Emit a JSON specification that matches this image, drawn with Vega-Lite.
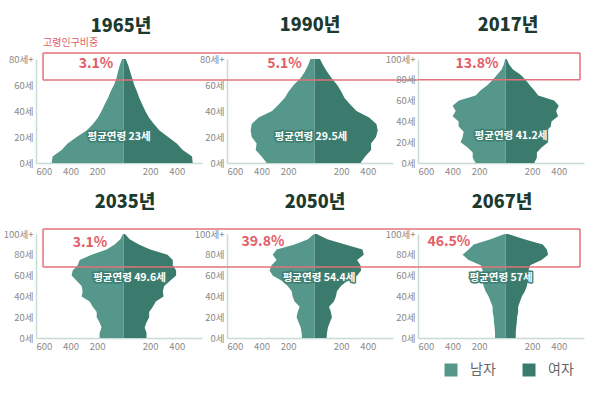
{
"$schema":"https://vega.github.io/schema/vega-lite/v6.json",
"background":"white",
"padding":{"left":3,"top":17,"right":5,"bottom":5},
"datasets":{
"pop":[
{"year":1965,"sex":"남자","age":0,"pop":542},{"year":1965,"sex":"남자","age":5,"pop":535},{"year":1965,"sex":"남자","age":10,"pop":467},{"year":1965,"sex":"남자","age":15,"pop":422},{"year":1965,"sex":"남자","age":20,"pop":354},{"year":1965,"sex":"남자","age":25,"pop":279},{"year":1965,"sex":"남자","age":30,"pop":231},{"year":1965,"sex":"남자","age":35,"pop":193},{"year":1965,"sex":"남자","age":40,"pop":166},{"year":1965,"sex":"남자","age":45,"pop":143},{"year":1965,"sex":"남자","age":50,"pop":118},{"year":1965,"sex":"남자","age":55,"pop":98},{"year":1965,"sex":"남자","age":60,"pop":73},{"year":1965,"sex":"남자","age":65,"pop":55},{"year":1965,"sex":"남자","age":70,"pop":43},{"year":1965,"sex":"남자","age":75,"pop":30},{"year":1965,"sex":"남자","age":80,"pop":12},
{"year":1965,"sex":"여자","age":0,"pop":520},{"year":1965,"sex":"여자","age":5,"pop":515},{"year":1965,"sex":"여자","age":10,"pop":445},{"year":1965,"sex":"여자","age":15,"pop":400},{"year":1965,"sex":"여자","age":20,"pop":335},{"year":1965,"sex":"여자","age":25,"pop":270},{"year":1965,"sex":"여자","age":30,"pop":228},{"year":1965,"sex":"여자","age":35,"pop":190},{"year":1965,"sex":"여자","age":40,"pop":163},{"year":1965,"sex":"여자","age":45,"pop":140},{"year":1965,"sex":"여자","age":50,"pop":118},{"year":1965,"sex":"여자","age":55,"pop":100},{"year":1965,"sex":"여자","age":60,"pop":80},{"year":1965,"sex":"여자","age":65,"pop":65},{"year":1965,"sex":"여자","age":70,"pop":50},{"year":1965,"sex":"여자","age":75,"pop":35},{"year":1965,"sex":"여자","age":80,"pop":15},
{"year":1990,"sex":"남자","age":0,"pop":361},{"year":1990,"sex":"남자","age":5,"pop":399},{"year":1990,"sex":"남자","age":10,"pop":444},{"year":1990,"sex":"남자","age":15,"pop":437},{"year":1990,"sex":"남자","age":20,"pop":474},{"year":1990,"sex":"남자","age":25,"pop":482},{"year":1990,"sex":"남자","age":30,"pop":474},{"year":1990,"sex":"남자","age":35,"pop":422},{"year":1990,"sex":"남자","age":40,"pop":321},{"year":1990,"sex":"남자","age":45,"pop":271},{"year":1990,"sex":"남자","age":50,"pop":226},{"year":1990,"sex":"남자","age":55,"pop":196},{"year":1990,"sex":"남자","age":60,"pop":158},{"year":1990,"sex":"남자","age":65,"pop":108},{"year":1990,"sex":"남자","age":70,"pop":75},{"year":1990,"sex":"남자","age":75,"pop":50},{"year":1990,"sex":"남자","age":80,"pop":32},
{"year":1990,"sex":"여자","age":0,"pop":345},{"year":1990,"sex":"여자","age":5,"pop":380},{"year":1990,"sex":"여자","age":10,"pop":425},{"year":1990,"sex":"여자","age":15,"pop":425},{"year":1990,"sex":"여자","age":20,"pop":462},{"year":1990,"sex":"여자","age":25,"pop":475},{"year":1990,"sex":"여자","age":30,"pop":465},{"year":1990,"sex":"여자","age":35,"pop":410},{"year":1990,"sex":"여자","age":40,"pop":315},{"year":1990,"sex":"여자","age":45,"pop":268},{"year":1990,"sex":"여자","age":50,"pop":225},{"year":1990,"sex":"여자","age":55,"pop":200},{"year":1990,"sex":"여자","age":60,"pop":170},{"year":1990,"sex":"여자","age":65,"pop":130},{"year":1990,"sex":"여자","age":70,"pop":95},{"year":1990,"sex":"여자","age":75,"pop":65},{"year":1990,"sex":"여자","age":80,"pop":40},
{"year":2017,"sex":"남자","age":0,"pop":226},{"year":2017,"sex":"남자","age":5,"pop":248},{"year":2017,"sex":"남자","age":10,"pop":248},{"year":2017,"sex":"남자","age":15,"pop":286},{"year":2017,"sex":"남자","age":20,"pop":339},{"year":2017,"sex":"남자","age":25,"pop":324},{"year":2017,"sex":"남자","age":30,"pop":316},{"year":2017,"sex":"남자","age":35,"pop":354},{"year":2017,"sex":"남자","age":40,"pop":354},{"year":2017,"sex":"남자","age":45,"pop":399},{"year":2017,"sex":"남자","age":50,"pop":376},{"year":2017,"sex":"남자","age":55,"pop":399},{"year":2017,"sex":"남자","age":60,"pop":352},{"year":2017,"sex":"남자","age":65,"pop":226},{"year":2017,"sex":"남자","age":70,"pop":188},{"year":2017,"sex":"남자","age":75,"pop":136},{"year":2017,"sex":"남자","age":80,"pop":96},{"year":2017,"sex":"남자","age":85,"pop":63},{"year":2017,"sex":"남자","age":90,"pop":30},{"year":2017,"sex":"남자","age":95,"pop":13},{"year":2017,"sex":"남자","age":100,"pop":4},
{"year":2017,"sex":"여자","age":0,"pop":215},{"year":2017,"sex":"여자","age":5,"pop":235},{"year":2017,"sex":"여자","age":10,"pop":235},{"year":2017,"sex":"여자","age":15,"pop":270},{"year":2017,"sex":"여자","age":20,"pop":320},{"year":2017,"sex":"여자","age":25,"pop":305},{"year":2017,"sex":"여자","age":30,"pop":300},{"year":2017,"sex":"여자","age":35,"pop":340},{"year":2017,"sex":"여자","age":40,"pop":345},{"year":2017,"sex":"여자","age":45,"pop":395},{"year":2017,"sex":"여자","age":50,"pop":380},{"year":2017,"sex":"여자","age":55,"pop":400},{"year":2017,"sex":"여자","age":60,"pop":365},{"year":2017,"sex":"여자","age":65,"pop":245},{"year":2017,"sex":"여자","age":70,"pop":215},{"year":2017,"sex":"여자","age":75,"pop":180},{"year":2017,"sex":"여자","age":80,"pop":150},{"year":2017,"sex":"여자","age":85,"pop":110},{"year":2017,"sex":"여자","age":90,"pop":55},{"year":2017,"sex":"여자","age":95,"pop":25},{"year":2017,"sex":"여자","age":100,"pop":8},
{"year":2035,"sex":"남자","age":0,"pop":181},{"year":2035,"sex":"남자","age":5,"pop":181},{"year":2035,"sex":"남자","age":10,"pop":166},{"year":2035,"sex":"남자","age":15,"pop":181},{"year":2035,"sex":"남자","age":20,"pop":203},{"year":2035,"sex":"남자","age":25,"pop":203},{"year":2035,"sex":"남자","age":30,"pop":233},{"year":2035,"sex":"남자","age":35,"pop":256},{"year":2035,"sex":"남자","age":40,"pop":316},{"year":2035,"sex":"남자","age":45,"pop":309},{"year":2035,"sex":"남자","age":50,"pop":316},{"year":2035,"sex":"남자","age":55,"pop":354},{"year":2035,"sex":"남자","age":60,"pop":392},{"year":2035,"sex":"남자","age":65,"pop":384},{"year":2035,"sex":"남자","age":70,"pop":346},{"year":2035,"sex":"남자","age":75,"pop":331},{"year":2035,"sex":"남자","age":80,"pop":241},{"year":2035,"sex":"남자","age":85,"pop":128},{"year":2035,"sex":"남자","age":90,"pop":68},{"year":2035,"sex":"남자","age":95,"pop":25},{"year":2035,"sex":"남자","age":100,"pop":5},
{"year":2035,"sex":"여자","age":0,"pop":172},{"year":2035,"sex":"여자","age":5,"pop":172},{"year":2035,"sex":"여자","age":10,"pop":158},{"year":2035,"sex":"여자","age":15,"pop":172},{"year":2035,"sex":"여자","age":20,"pop":192},{"year":2035,"sex":"여자","age":25,"pop":192},{"year":2035,"sex":"여자","age":30,"pop":220},{"year":2035,"sex":"여자","age":35,"pop":242},{"year":2035,"sex":"여자","age":40,"pop":300},{"year":2035,"sex":"여자","age":45,"pop":295},{"year":2035,"sex":"여자","age":50,"pop":305},{"year":2035,"sex":"여자","age":55,"pop":350},{"year":2035,"sex":"여자","age":60,"pop":395},{"year":2035,"sex":"여자","age":65,"pop":395},{"year":2035,"sex":"여자","age":70,"pop":370},{"year":2035,"sex":"여자","age":75,"pop":370},{"year":2035,"sex":"여자","age":80,"pop":330},{"year":2035,"sex":"여자","age":85,"pop":200},{"year":2035,"sex":"여자","age":90,"pop":115},{"year":2035,"sex":"여자","age":95,"pop":45},{"year":2035,"sex":"여자","age":100,"pop":10},
{"year":2050,"sex":"남자","age":0,"pop":95},{"year":2050,"sex":"남자","age":5,"pop":98},{"year":2050,"sex":"남자","age":10,"pop":105},{"year":2050,"sex":"남자","age":15,"pop":120},{"year":2050,"sex":"남자","age":20,"pop":136},{"year":2050,"sex":"남자","age":25,"pop":128},{"year":2050,"sex":"남자","age":30,"pop":113},{"year":2050,"sex":"남자","age":35,"pop":151},{"year":2050,"sex":"남자","age":40,"pop":166},{"year":2050,"sex":"남자","age":45,"pop":173},{"year":2050,"sex":"남자","age":50,"pop":203},{"year":2050,"sex":"남자","age":55,"pop":248},{"year":2050,"sex":"남자","age":60,"pop":316},{"year":2050,"sex":"남자","age":65,"pop":339},{"year":2050,"sex":"남자","age":70,"pop":324},{"year":2050,"sex":"남자","age":75,"pop":286},{"year":2050,"sex":"남자","age":80,"pop":316},{"year":2050,"sex":"남자","age":85,"pop":286},{"year":2050,"sex":"남자","age":90,"pop":151},{"year":2050,"sex":"남자","age":95,"pop":50},{"year":2050,"sex":"남자","age":100,"pop":5},
{"year":2050,"sex":"여자","age":0,"pop":90},{"year":2050,"sex":"여자","age":5,"pop":93},{"year":2050,"sex":"여자","age":10,"pop":100},{"year":2050,"sex":"여자","age":15,"pop":114},{"year":2050,"sex":"여자","age":20,"pop":130},{"year":2050,"sex":"여자","age":25,"pop":122},{"year":2050,"sex":"여자","age":30,"pop":108},{"year":2050,"sex":"여자","age":35,"pop":145},{"year":2050,"sex":"여자","age":40,"pop":160},{"year":2050,"sex":"여자","age":45,"pop":168},{"year":2050,"sex":"여자","age":50,"pop":198},{"year":2050,"sex":"여자","age":55,"pop":245},{"year":2050,"sex":"여자","age":60,"pop":320},{"year":2050,"sex":"여자","age":65,"pop":350},{"year":2050,"sex":"여자","age":70,"pop":345},{"year":2050,"sex":"여자","age":75,"pop":320},{"year":2050,"sex":"여자","age":80,"pop":370},{"year":2050,"sex":"여자","age":85,"pop":360},{"year":2050,"sex":"여자","age":90,"pop":230},{"year":2050,"sex":"여자","age":95,"pop":95},{"year":2050,"sex":"여자","age":100,"pop":15},
{"year":2067,"sex":"남자","age":0,"pop":80},{"year":2067,"sex":"남자","age":5,"pop":80},{"year":2067,"sex":"남자","age":10,"pop":83},{"year":2067,"sex":"남자","age":15,"pop":88},{"year":2067,"sex":"남자","age":20,"pop":90},{"year":2067,"sex":"남자","age":25,"pop":98},{"year":2067,"sex":"남자","age":30,"pop":98},{"year":2067,"sex":"남자","age":35,"pop":113},{"year":2067,"sex":"남자","age":40,"pop":128},{"year":2067,"sex":"남자","age":45,"pop":151},{"year":2067,"sex":"남자","age":50,"pop":166},{"year":2067,"sex":"남자","age":55,"pop":173},{"year":2067,"sex":"남자","age":60,"pop":173},{"year":2067,"sex":"남자","age":65,"pop":173},{"year":2067,"sex":"남자","age":70,"pop":188},{"year":2067,"sex":"남자","age":75,"pop":279},{"year":2067,"sex":"남자","age":80,"pop":324},{"year":2067,"sex":"남자","age":85,"pop":279},{"year":2067,"sex":"남자","age":90,"pop":241},{"year":2067,"sex":"남자","age":95,"pop":113},{"year":2067,"sex":"남자","age":100,"pop":8},
{"year":2067,"sex":"여자","age":0,"pop":76},{"year":2067,"sex":"여자","age":5,"pop":76},{"year":2067,"sex":"여자","age":10,"pop":79},{"year":2067,"sex":"여자","age":15,"pop":84},{"year":2067,"sex":"여자","age":20,"pop":86},{"year":2067,"sex":"여자","age":25,"pop":94},{"year":2067,"sex":"여자","age":30,"pop":94},{"year":2067,"sex":"여자","age":35,"pop":108},{"year":2067,"sex":"여자","age":40,"pop":122},{"year":2067,"sex":"여자","age":45,"pop":145},{"year":2067,"sex":"여자","age":50,"pop":160},{"year":2067,"sex":"여자","age":55,"pop":168},{"year":2067,"sex":"여자","age":60,"pop":170},{"year":2067,"sex":"여자","age":65,"pop":172},{"year":2067,"sex":"여자","age":70,"pop":185},{"year":2067,"sex":"여자","age":75,"pop":270},{"year":2067,"sex":"여자","age":80,"pop":320},{"year":2067,"sex":"여자","age":85,"pop":310},{"year":2067,"sex":"여자","age":90,"pop":280},{"year":2067,"sex":"여자","age":95,"pop":140},{"year":2067,"sex":"여자","age":100,"pop":15}
],
"info":[
{"year":1965,"avg":"평균연령 23세","pct":"3.1%"},
{"year":1990,"avg":"평균연령 29.5세","pct":"5.1%"},
{"year":2017,"avg":"평균연령 41.2세","pct":"13.8%"},
{"year":2035,"avg":"평균연령 49.6세","pct":"3.1%"},
{"year":2050,"avg":"평균연령 54.4세","pct":"39.8%"},
{"year":2067,"avg":"평균연령 57세","pct":"46.5%"}
]
},
"columns":3,
"spacing":{"column":25,"row":71},
"bounds":"flush",
"concat":[
{"width":166,"height":104,"title":{"text":"1965년","offset":2,"dx":2},
"layer":[
{"data":{"name":"pop"},"transform":[{"filter":"datum.year == 1965"},{"calculate":"datum.sex == '남자' ? -datum.pop : datum.pop","as":"xv"}],
"mark":{"type":"area","orient":"horizontal"},
"encoding":{
"y":{"field":"age","type":"quantitative","title":null,"scale":{"domain":[0,80],"nice":false},"axis":{"values":[0,20,40,60,80],"tickCount":10,"labelOverlap":false,"labelExpr":"datum.value == 80 ? '80세+' : datum.value + '세'"}},
"x":{"field":"xv","type":"quantitative","title":null,"stack":null,"scale":{"domain":[-660,590],"nice":false},"axis":{"values":[-600,-400,-200,200,400],"tickCount":10,"labelOverlap":false,"labelExpr":"abs(datum.value)"}},
"color":{"field":"sex","type":"nominal","scale":{"domain":["남자","여자"],"range":["#55978a","#3b7b6e"]},"legend":{"title":null}}}},
{"data":{"name":"info"},"transform":[{"filter":"datum.year == 1965"}],"mark":{"type":"rule","color":"#e3707a","strokeWidth":1.5},"encoding":{"x":{"datum":-607},"x2":{"datum":778},"y":{"datum":84.6}}},
{"data":{"name":"info"},"transform":[{"filter":"datum.year == 1965"}],"mark":{"type":"rule","color":"#e3707a","strokeWidth":1.5},"encoding":{"x":{"datum":-607},"x2":{"datum":778},"y":{"datum":63.8}}},
{"data":{"name":"info"},"transform":[{"filter":"datum.year == 1965"}],"mark":{"type":"rule","color":"#e3707a","strokeWidth":1.5},"encoding":{"x":{"datum":-607},"y":{"datum":63.8},"y2":{"datum":84.6}}},
{"data":{"name":"info"},"transform":[{"filter":"datum.year == 1965"}],"mark":{"type":"text","color":"#e35d67","fontSize":14,"fontWeight":600},"encoding":{"x":{"datum":-208},"y":{"datum":76},"text":{"field":"pct"}}},
{"data":{"name":"info"},"transform":[{"filter":"datum.year == 1965"}],"mark":{"type":"text","color":"#3e7e71","stroke":"#3e7e71","strokeWidth":3,"strokeJoin":"round","fontSize":10.5,"fontWeight":700},"encoding":{"x":{"datum":-35},"y":{"datum":20},"text":{"field":"avg"}}},
{"data":{"name":"info"},"transform":[{"filter":"datum.year == 1965"}],"mark":{"type":"text","color":"white","fontSize":10.5,"fontWeight":700},"encoding":{"x":{"datum":-35},"y":{"datum":20},"text":{"field":"avg"}}},
{"data":{"name":"info"},"transform":[{"filter":"datum.year == 1965"}],"mark":{"type":"text","color":"#e35d67","fontSize":10,"align":"left"},"encoding":{"x":{"datum":-607},"y":{"datum":92.3},"text":{"value":"고령인구비중"}}}
]},
{"width":166,"height":104,"title":{"text":"1990년","offset":17,"dx":0},
"layer":[
{"data":{"name":"pop"},"transform":[{"filter":"datum.year == 1990"},{"calculate":"datum.sex == '남자' ? -datum.pop : datum.pop","as":"xv"}],
"mark":{"type":"area","orient":"horizontal"},
"encoding":{
"y":{"field":"age","type":"quantitative","title":null,"scale":{"domain":[0,80],"nice":false},"axis":{"values":[0,20,40,60,80],"tickCount":10,"labelOverlap":false,"labelExpr":"datum.value == 80 ? '80세+' : datum.value + '세'"}},
"x":{"field":"xv","type":"quantitative","title":null,"stack":null,"scale":{"domain":[-660,590],"nice":false},"axis":{"values":[-600,-400,-200,200,400],"tickCount":10,"labelOverlap":false,"labelExpr":"abs(datum.value)"}},
"color":{"field":"sex","type":"nominal","scale":{"domain":["남자","여자"],"range":["#55978a","#3b7b6e"]},"legend":{"title":null}}}},
{"data":{"name":"info"},"transform":[{"filter":"datum.year == 1990"}],"mark":{"type":"rule","color":"#e3707a","strokeWidth":1.5},"encoding":{"x":{"datum":-660},"x2":{"datum":778},"y":{"datum":84.6}}},
{"data":{"name":"info"},"transform":[{"filter":"datum.year == 1990"}],"mark":{"type":"rule","color":"#e3707a","strokeWidth":1.5},"encoding":{"x":{"datum":-660},"x2":{"datum":778},"y":{"datum":63.8}}},
{"data":{"name":"info"},"transform":[{"filter":"datum.year == 1990"}],"mark":{"type":"text","color":"#e35d67","fontSize":14,"fontWeight":600},"encoding":{"x":{"datum":-227},"y":{"datum":76},"text":{"field":"pct"}}},
{"data":{"name":"info"},"transform":[{"filter":"datum.year == 1990"}],"mark":{"type":"text","color":"#3e7e71","stroke":"#3e7e71","strokeWidth":3,"strokeJoin":"round","fontSize":10.5,"fontWeight":700},"encoding":{"x":{"datum":-28},"y":{"datum":20},"text":{"field":"avg"}}},
{"data":{"name":"info"},"transform":[{"filter":"datum.year == 1990"}],"mark":{"type":"text","color":"white","fontSize":10.5,"fontWeight":700},"encoding":{"x":{"datum":-28},"y":{"datum":20},"text":{"field":"avg"}}}
]},
{"width":166,"height":104,"title":{"text":"2017년","offset":17,"dx":7},
"layer":[
{"data":{"name":"pop"},"transform":[{"filter":"datum.year == 2017"},{"calculate":"datum.sex == '남자' ? -datum.pop : datum.pop","as":"xv"}],
"mark":{"type":"area","orient":"horizontal"},
"encoding":{
"y":{"field":"age","type":"quantitative","title":null,"scale":{"domain":[0,100],"nice":false},"axis":{"values":[0,20,40,60,80,100],"tickCount":10,"labelOverlap":false,"labelExpr":"datum.value == 100 ? '100세+' : datum.value + '세'"}},
"x":{"field":"xv","type":"quantitative","title":null,"stack":null,"scale":{"domain":[-660,590],"nice":false},"axis":{"values":[-600,-400,-200,200,400],"tickCount":10,"labelOverlap":false,"labelExpr":"abs(datum.value)"}},
"color":{"field":"sex","type":"nominal","scale":{"domain":["남자","여자"],"range":["#55978a","#3b7b6e"]},"legend":{"title":null}}}},
{"data":{"name":"info"},"transform":[{"filter":"datum.year == 2017"}],"mark":{"type":"rule","color":"#e3707a","strokeWidth":1.5},"encoding":{"x":{"datum":-660},"x2":{"datum":560},"y":{"datum":105.8}}},
{"data":{"name":"info"},"transform":[{"filter":"datum.year == 2017"}],"mark":{"type":"rule","color":"#e3707a","strokeWidth":1.5},"encoding":{"x":{"datum":-660},"x2":{"datum":560},"y":{"datum":80}}},
{"data":{"name":"info"},"transform":[{"filter":"datum.year == 2017"}],"mark":{"type":"rule","color":"#e3707a","strokeWidth":1.5},"encoding":{"x":{"datum":560},"y":{"datum":80},"y2":{"datum":105.8}}},
{"data":{"name":"info"},"transform":[{"filter":"datum.year == 2017"}],"mark":{"type":"text","color":"#e35d67","fontSize":14,"fontWeight":600},"encoding":{"x":{"datum":-216},"y":{"datum":95},"text":{"field":"pct"}}},
{"data":{"name":"info"},"transform":[{"filter":"datum.year == 2017"}],"mark":{"type":"text","color":"#3e7e71","stroke":"#3e7e71","strokeWidth":3,"strokeJoin":"round","fontSize":10.5,"fontWeight":700},"encoding":{"x":{"datum":40},"y":{"datum":26},"text":{"field":"avg"}}},
{"data":{"name":"info"},"transform":[{"filter":"datum.year == 2017"}],"mark":{"type":"text","color":"white","fontSize":10.5,"fontWeight":700},"encoding":{"x":{"datum":40},"y":{"datum":26},"text":{"field":"avg"}}}
]},
{"width":166,"height":104,"title":{"text":"2035년","offset":16,"dx":6},
"layer":[
{"data":{"name":"pop"},"transform":[{"filter":"datum.year == 2035"},{"calculate":"datum.sex == '남자' ? -datum.pop : datum.pop","as":"xv"}],
"mark":{"type":"area","orient":"horizontal"},
"encoding":{
"y":{"field":"age","type":"quantitative","title":null,"scale":{"domain":[0,100],"nice":false},"axis":{"values":[0,20,40,60,80,100],"tickCount":10,"labelOverlap":false,"labelExpr":"datum.value == 100 ? '100세+' : datum.value + '세'"}},
"x":{"field":"xv","type":"quantitative","title":null,"stack":null,"scale":{"domain":[-660,590],"nice":false},"axis":{"values":[-600,-400,-200,200,400],"tickCount":10,"labelOverlap":false,"labelExpr":"abs(datum.value)"}},
"color":{"field":"sex","type":"nominal","scale":{"domain":["남자","여자"],"range":["#55978a","#3b7b6e"]},"legend":{"title":null}}}},
{"data":{"name":"info"},"transform":[{"filter":"datum.year == 2035"}],"mark":{"type":"rule","color":"#e3707a","strokeWidth":1.5},"encoding":{"x":{"datum":-607},"x2":{"datum":778},"y":{"datum":104.8}}},
{"data":{"name":"info"},"transform":[{"filter":"datum.year == 2035"}],"mark":{"type":"rule","color":"#e3707a","strokeWidth":1.5},"encoding":{"x":{"datum":-607},"x2":{"datum":778},"y":{"datum":68.3}}},
{"data":{"name":"info"},"transform":[{"filter":"datum.year == 2035"}],"mark":{"type":"rule","color":"#e3707a","strokeWidth":1.5},"encoding":{"x":{"datum":-607},"y":{"datum":68.3},"y2":{"datum":104.8}}},
{"data":{"name":"info"},"transform":[{"filter":"datum.year == 2035"}],"mark":{"type":"text","color":"#e35d67","fontSize":14,"fontWeight":600},"encoding":{"x":{"datum":-253},"y":{"datum":91},"text":{"field":"pct"}}},
{"data":{"name":"info"},"transform":[{"filter":"datum.year == 2035"}],"mark":{"type":"text","color":"#3e7e71","stroke":"#3e7e71","strokeWidth":3,"strokeJoin":"round","fontSize":10.5,"fontWeight":700},"encoding":{"x":{"datum":44},"y":{"datum":58},"text":{"field":"avg"}}},
{"data":{"name":"info"},"transform":[{"filter":"datum.year == 2035"}],"mark":{"type":"text","color":"white","fontSize":10.5,"fontWeight":700},"encoding":{"x":{"datum":44},"y":{"datum":58},"text":{"field":"avg"}}}
]},
{"width":166,"height":104,"title":{"text":"2050년","offset":16,"dx":5},
"layer":[
{"data":{"name":"pop"},"transform":[{"filter":"datum.year == 2050"},{"calculate":"datum.sex == '남자' ? -datum.pop : datum.pop","as":"xv"}],
"mark":{"type":"area","orient":"horizontal"},
"encoding":{
"y":{"field":"age","type":"quantitative","title":null,"scale":{"domain":[0,100],"nice":false},"axis":{"values":[0,20,40,60,80,100],"tickCount":10,"labelOverlap":false,"labelExpr":"datum.value == 100 ? '100세+' : datum.value + '세'"}},
"x":{"field":"xv","type":"quantitative","title":null,"stack":null,"scale":{"domain":[-660,590],"nice":false},"axis":{"values":[-600,-400,-200,200,400],"tickCount":10,"labelOverlap":false,"labelExpr":"abs(datum.value)"}},
"color":{"field":"sex","type":"nominal","scale":{"domain":["남자","여자"],"range":["#55978a","#3b7b6e"]},"legend":{"title":null}}}},
{"data":{"name":"info"},"transform":[{"filter":"datum.year == 2050"}],"mark":{"type":"rule","color":"#e3707a","strokeWidth":1.5},"encoding":{"x":{"datum":-660},"x2":{"datum":778},"y":{"datum":104.8}}},
{"data":{"name":"info"},"transform":[{"filter":"datum.year == 2050"}],"mark":{"type":"rule","color":"#e3707a","strokeWidth":1.5},"encoding":{"x":{"datum":-660},"x2":{"datum":778},"y":{"datum":68.3}}},
{"data":{"name":"info"},"transform":[{"filter":"datum.year == 2050"}],"mark":{"type":"text","color":"#e35d67","fontSize":14,"fontWeight":600},"encoding":{"x":{"datum":-389},"y":{"datum":92},"text":{"field":"pct"}}},
{"data":{"name":"info"},"transform":[{"filter":"datum.year == 2050"}],"mark":{"type":"text","color":"#3e7e71","stroke":"#3e7e71","strokeWidth":3,"strokeJoin":"round","fontSize":10.5,"fontWeight":700},"encoding":{"x":{"datum":33},"y":{"datum":58},"text":{"field":"avg"}}},
{"data":{"name":"info"},"transform":[{"filter":"datum.year == 2050"}],"mark":{"type":"text","color":"white","fontSize":10.5,"fontWeight":700},"encoding":{"x":{"datum":33},"y":{"datum":58},"text":{"field":"avg"}}}
]},
{"width":166,"height":104,"title":{"text":"2067년","offset":16,"dx":1},
"layer":[
{"data":{"name":"pop"},"transform":[{"filter":"datum.year == 2067"},{"calculate":"datum.sex == '남자' ? -datum.pop : datum.pop","as":"xv"}],
"mark":{"type":"area","orient":"horizontal"},
"encoding":{
"y":{"field":"age","type":"quantitative","title":null,"scale":{"domain":[0,100],"nice":false},"axis":{"values":[0,20,40,60,80,100],"tickCount":10,"labelOverlap":false,"labelExpr":"datum.value == 100 ? '100세+' : datum.value + '세'"}},
"x":{"field":"xv","type":"quantitative","title":null,"stack":null,"scale":{"domain":[-660,590],"nice":false},"axis":{"values":[-600,-400,-200,200,400],"tickCount":10,"labelOverlap":false,"labelExpr":"abs(datum.value)"}},
"color":{"field":"sex","type":"nominal","scale":{"domain":["남자","여자"],"range":["#55978a","#3b7b6e"]},"legend":{"title":null}}}},
{"data":{"name":"info"},"transform":[{"filter":"datum.year == 2067"}],"mark":{"type":"rule","color":"#e3707a","strokeWidth":1.5},"encoding":{"x":{"datum":-660},"x2":{"datum":560},"y":{"datum":104.8}}},
{"data":{"name":"info"},"transform":[{"filter":"datum.year == 2067"}],"mark":{"type":"rule","color":"#e3707a","strokeWidth":1.5},"encoding":{"x":{"datum":-660},"x2":{"datum":560},"y":{"datum":68.3}}},
{"data":{"name":"info"},"transform":[{"filter":"datum.year == 2067"}],"mark":{"type":"rule","color":"#e3707a","strokeWidth":1.5},"encoding":{"x":{"datum":560},"y":{"datum":68.3},"y2":{"datum":104.8}}},
{"data":{"name":"info"},"transform":[{"filter":"datum.year == 2067"}],"mark":{"type":"text","color":"#e35d67","fontSize":14,"fontWeight":600},"encoding":{"x":{"datum":-427},"y":{"datum":92},"text":{"field":"pct"}}},
{"data":{"name":"info"},"transform":[{"filter":"datum.year == 2067"}],"mark":{"type":"text","color":"#3e7e71","stroke":"#3e7e71","strokeWidth":3,"strokeJoin":"round","fontSize":10.5,"fontWeight":700},"encoding":{"x":{"datum":-35},"y":{"datum":58},"text":{"field":"avg"}}},
{"data":{"name":"info"},"transform":[{"filter":"datum.year == 2067"}],"mark":{"type":"text","color":"white","fontSize":10.5,"fontWeight":700},"encoding":{"x":{"datum":-35},"y":{"datum":58},"text":{"field":"avg"}}}
]}
],
"config":{
"view":{"stroke":null},
"font":"Noto Sans CJK KR",
"title":{"fontSize":18,"fontWeight":900,"color":"#1c3a2f","font":"Noto Sans CJK KR","frame":"group","anchor":"middle"},
"axis":{"domainColor":"#c8dcd6","domainWidth":1.5,"ticks":false,"grid":false,"labelColor":"#8a8a8a","labelFontSize":9.5,"labelFont":"Noto Sans CJK KR","labelPadding":3,"labelOverlap":false},
"text":{"font":"Noto Sans CJK KR"},
"legend":{"orient":"none","legendX":408,"legendY":304,"direction":"horizontal","symbolType":"square","symbolSize":169,"symbolStrokeWidth":0,"symbolOpacity":1,"labelFontSize":14,"labelColor":"#666666","labelFont":"Noto Sans CJK KR","labelOffset":12,"columnPadding":26,"padding":0}
}
}
